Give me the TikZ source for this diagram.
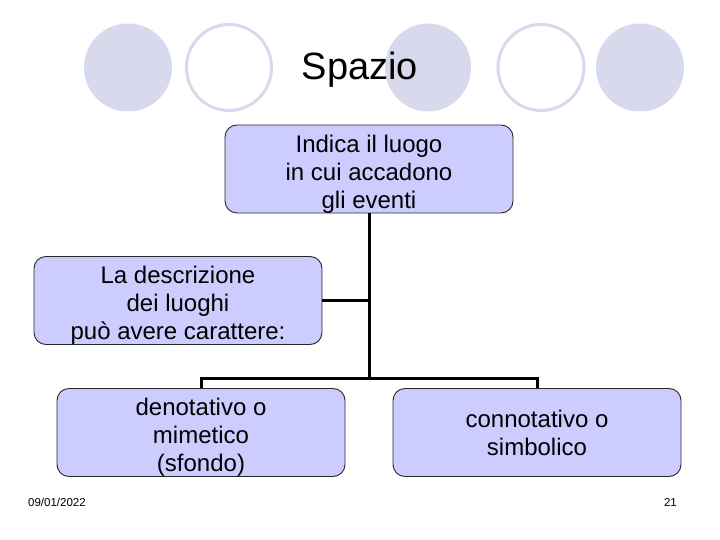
\documentclass[tikz,border=0pt]{standalone}
\usepackage{fontspec}
\setmainfont{Liberation Sans}
\definecolor{boxfill}{RGB}{204,204,255}
\definecolor{dotfill}{RGB}{217,217,237}
\definecolor{boxline}{RGB}{40,40,40}
\newcommand\lowerstrut{\rule{0pt}{27pt}}
\begin{document}
\begin{tikzpicture}[x=1pt,y=-1pt,
  box/.style={draw=boxline,line width=0.9pt,fill=boxfill,rounded corners=12pt,
    minimum width=288pt,minimum height=88pt,align=center,inner sep=0pt,
    font=\fontsize{24}{28}\selectfont},
  dotfull/.style={fill=dotfill,draw=none},
  dotring/.style={draw=dotfill,line width=3pt,fill=white},
  link/.style={draw=black,line width=3pt},
  foot/.style={font=\fontsize{11.5}{13}\selectfont,inner sep=0pt}]
\useasboundingbox (0,0) rectangle (720,540);
\fill[white] (0,0) rectangle (720,540);
% decorative circles
\path[dotfull] (128,67.5) circle[x radius=44, y radius=44];
\path[dotring] (229,67.5) circle[x radius=42.5, y radius=43];
\path[dotfull] (428,67.5) circle[x radius=43, y radius=44];
\path[dotring] (541,67.5) circle[x radius=43, y radius=43];
\path[dotfull] (640,67.5) circle[x radius=44, y radius=44];
% title
\node[anchor=base,inner sep=0pt,font=\fontsize{38}{44}\selectfont] (title) at (360,80) {Spazio};
% boxes
\node[box] (top) at (369,169) {\lowerstrut Indica il luogo\\in cui accadono\\gli eventi};
\node[box] (desc) at (178,300.5) {\lowerstrut La descrizione\\dei luoghi\\può avere carattere:};
\node[box] (den) at (201,432.5) {\lowerstrut denotativo o\\mimetico\\(sfondo)};
\node[box] (con) at (537,432.5) {connotativo o\\simbolico};
\coordinate (j) at (369,378);
% connectors
\draw[link] (top.south) -- (j);
\draw[link] (desc.east) -- (desc.east -| top.south);
\draw[link] (den.north) -- (den.north |- j) -- (con.north |- j) -- (con.north);
% footer
\node[foot,anchor=base west] (date) at (28,506) {09/01/2022};
\node[foot,anchor=base east] (page) at (677,506) {21};
\end{tikzpicture}
\end{document}
